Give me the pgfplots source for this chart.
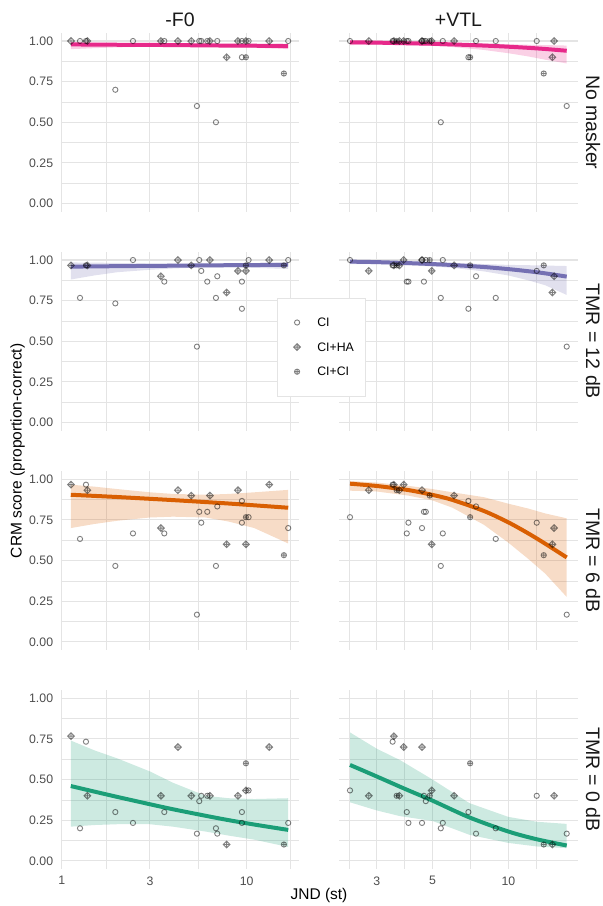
\documentclass[border=0pt]{standalone}
\usepackage{fontspec}
\setmainfont{Liberation Sans}
\usepackage{pgfplots}
\usepackage{pgfplotstable}
\pgfplotsset{compat=1.18}
\usetikzlibrary{plotmarks}

\definecolor{cpink}{HTML}{E7298A}
\definecolor{cpurple}{HTML}{7570B3}
\definecolor{corange}{HTML}{D95F02}
\definecolor{cgreen}{HTML}{1B9E77}
\definecolor{gridc}{HTML}{E4E4E4}
\definecolor{tickc}{HTML}{4D4D4D}

\pgfdeclareplotmark{dplus}{%
  \pgfpathmoveto{\pgfqpoint{0pt}{\pgfplotmarksize}}%
  \pgfpathlineto{\pgfqpoint{\pgfplotmarksize}{0pt}}%
  \pgfpathlineto{\pgfqpoint{0pt}{-\pgfplotmarksize}}%
  \pgfpathlineto{\pgfqpoint{-\pgfplotmarksize}{0pt}}%
  \pgfpathclose
  \pgfpathmoveto{\pgfqpoint{0pt}{\pgfplotmarksize}}%
  \pgfpathlineto{\pgfqpoint{0pt}{-\pgfplotmarksize}}%
  \pgfpathmoveto{\pgfqpoint{\pgfplotmarksize}{0pt}}%
  \pgfpathlineto{\pgfqpoint{-\pgfplotmarksize}{0pt}}%
  \pgfusepathqstroke}

% fitted curves
\pgfplotstableread{
x f
1.12 0.979
1.5 0.978
2 0.977
3 0.976
4 0.975
6 0.973
8 0.972
11 0.971
16.79 0.969
}\fitLa
\pgfplotstableread{
x f
1.12 0.959
1.5 0.961
2 0.962
3 0.964
4 0.965
6 0.967
8 0.968
11 0.969
16.79 0.971
}\fitLb
\pgfplotstableread{
x f
1.12 0.905
1.5 0.898
2 0.891
3 0.880
4 0.872
6 0.860
8 0.851
11 0.840
16.79 0.825
}\fitLc
\pgfplotstableread{
x f
1.12 0.460
1.5 0.426
2 0.393
3 0.348
4 0.317
6 0.277
8 0.250
11 0.223
16.79 0.190
}\fitLd
\pgfplotstableread{
x f
2.35 0.992
3 0.990
4 0.986
5 0.983
6 0.979
8 0.972
10 0.965
12 0.958
14 0.951
17.05 0.940
}\fitRa
\pgfplotstableread{
x f
2.35 0.990
3 0.987
4 0.981
5 0.975
6 0.969
8 0.957
10 0.944
12 0.931
14 0.918
17.05 0.898
}\fitRb
\pgfplotstableread{
x f
2.35 0.973
3 0.959
4 0.934
5 0.904
6 0.873
8 0.805
10 0.735
12 0.667
14 0.604
17.05 0.519
}\fitRc
\pgfplotstableread{
x f
2.35 0.590
3 0.519
3.71 0.456
4 0.434
5 0.370
7 0.267
10 0.180
13 0.132
17.05 0.094
}\fitRd

\pgfplotsset{
  every axis/.append style={
    scale only axis, width=238.5pt, height=178.7pt,
    ymin=-0.05, ymax=1.05,
    ytick={0,0.25,0.5,0.75,1}, minor ytick={0.125,0.375,0.625,0.875},
    grid=both,
    major grid style={draw=gridc, line width=1.1pt},
    minor grid style={draw=gridc, line width=0.55pt},
    axis line style={draw=none},
    major tick length=0pt, minor tick length=0pt,
    tick label style={font=\fontsize{12.3}{14}\selectfont, text=tickc},
    yticklabel style={inner sep=0pt, xshift=-7.4pt},
    xticklabel style={inner sep=0pt, yshift=-7.4pt},
  },
  mkci/.style={only marks, mark=o, mark size=2.6pt,
    mark options={draw=black, opacity=0.5, line width=0.9pt},
    legend image code/.code={\path (0pt,-4pt) (16pt,4pt);
      \draw[mark repeat=2,mark phase=2,##1] plot coordinates {(0pt,0pt)(8pt,0pt)(16pt,0pt)};}},
  mkha/.style={only marks, mark=dplus, mark size=3.4pt,
    mark options={draw=black, opacity=0.5, line width=0.9pt},
    legend image code/.code={\path (0pt,-4pt) (16pt,4pt);
      \draw[mark repeat=2,mark phase=2,##1] plot coordinates {(0pt,0pt)(8pt,0pt)(16pt,0pt)};}},
  mkcc/.style={only marks, mark=oplus, mark size=2.6pt,
    mark options={draw=black, opacity=0.5, line width=0.9pt},
    legend image code/.code={\path (0pt,-4pt) (16pt,4pt);
      \draw[mark repeat=2,mark phase=2,##1] plot coordinates {(0pt,0pt)(8pt,0pt)(16pt,0pt)};}},
}

\begin{document}
\begin{tikzpicture}
\path[use as bounding box] (0pt,0pt) rectangle (603pt,906pt);

% ---------- Row 1: No masker ----------
\begin{axis}[xmode=log, anchor=north west, at={(60.7pt,873.1pt)},
  xmin=0.9876, xmax=19.25, xtick={1,3,10}, minor xtick={1.732,5.477,17.32}, xticklabels={},
  yticklabels={0.00,0.25,0.50,0.75,1.00}]
\addplot[fill=cpink, fill opacity=0.22, draw=none] coordinates {(1.12,0.990)(1.5,0.988)(2,0.986)(3,0.985)(4,0.984)(6,0.982)(8,0.981)(11,0.981)(16.79,0.982)(16.79,0.950)(11,0.958)(8,0.962)(6,0.965)(4,0.966)(3,0.965)(2,0.961)(1.5,0.956)(1.12,0.950)} -- cycle;
\addplot[cpink, line width=4pt, smooth] table[x=x,y=f]{\fitLa};
\addplot[mkci] coordinates {(1.256,1)(1.353,1)(1.950,0.7)(2.429,1)(3.588,1)(5.387,0.6)(5.546,1)(5.686,1)(6.127,1)(6.826,0.5)(6.940,1)(9.432,0.9)(9.432,1)(10.25,1)(16.79,1)};
\addplot[mkha] coordinates {(1.123,1)(1.376,1)(3.441,1)(4.253,1)(5.020,1)(6.334,1)(7.795,0.9)(8.975,1)(9.913,1)(13.25,1)};
\addplot[mkcc] coordinates {(9.913,0.9)(15.91,0.8)};
\end{axis}
\begin{axis}[xmode=log, anchor=north west, at={(339.3pt,873.1pt)},
  xmin=2.131, xmax=18.87, xtick={3,5,10}, minor xtick={2.324,3.873,7.071,12.91}, yticklabels={}, xticklabels={}]
\addplot[fill=cpink, fill opacity=0.22, draw=none] coordinates {(2.35,0.997)(3,0.996)(4,0.993)(5,0.990)(6,0.988)(8,0.985)(10,0.980)(12,0.977)(14,0.975)(17.05,0.972)(17.05,0.862)(14,0.885)(12,0.905)(10,0.925)(8,0.945)(6,0.963)(5,0.970)(4,0.975)(3,0.978)(2.35,0.975)} -- cycle;
\addplot[cpink, line width=4pt, smooth] table[x=x,y=f]{\fitRa};
\addplot[mkci] coordinates {(2.35,1)(3.47,1)(3.95,1)(4.01,1)(4.54,1)(4.62,1)(4.70,1)(5.39,0.5)(5.49,1)(6.94,0.9)(7.44,1)(8.91,1)(12.96,1)(17.05,0.6)};
\addplot[mkha] coordinates {(2.79,1)(3.51,1)(3.69,1)(3.84,1)(4.54,1)(4.96,1)(6.09,1)(14.96,0.9)(15.19,1)};
\addplot[mkcc] coordinates {(3.60,1)(4.87,1)(7.05,0.9)(13.82,0.8)};
\end{axis}

% ---------- Row 2: TMR = 12 dB ----------
\begin{axis}[xmode=log, anchor=north west, at={(60.7pt,654.1pt)},
  xmin=0.9876, xmax=19.25, xtick={1,3,10}, minor xtick={1.732,5.477,17.32}, xticklabels={},
  yticklabels={0.00,0.25,0.50,0.75,1.00}]
\addplot[fill=cpurple, fill opacity=0.22, draw=none] coordinates {(1.12,0.985)(1.5,0.984)(2,0.982)(3,0.978)(4,0.977)(6,0.976)(8,0.978)(11,0.980)(16.79,0.985)(16.79,0.945)(11,0.952)(8,0.955)(6,0.955)(4,0.948)(3,0.940)(2,0.925)(1.5,0.905)(1.12,0.880)} -- cycle;
\addplot[cpurple, line width=4pt, smooth] table[x=x,y=f]{\fitLb};
\addplot[mkci] coordinates {(1.256,0.767)(1.353,0.967)(1.950,0.733)(2.429,1)(3.588,0.867)(5.387,0.467)(5.546,1)(5.686,0.933)(6.127,0.867)(6.826,0.767)(6.940,0.9)(9.432,0.867)(9.432,0.7)(10.25,1)(16.79,1)};
\addplot[mkha] coordinates {(1.123,0.967)(1.376,0.967)(3.441,0.9)(4.253,1)(5.020,0.967)(6.334,1)(7.795,0.8)(8.975,0.933)(9.913,0.933)(13.25,1)};
\addplot[mkcc] coordinates {(9.913,0.967)(15.91,0.967)};
\end{axis}
\begin{axis}[xmode=log, anchor=north west, at={(339.3pt,654.1pt)},
  xmin=2.131, xmax=18.87, xtick={3,5,10}, minor xtick={2.324,3.873,7.071,12.91}, yticklabels={}, xticklabels={},
  legend style={at={(-0.2613,0.742)}, anchor=north west, draw=gridc, fill=white,
    font=\fontsize{12.3}{14}\selectfont, inner xsep=11.7pt, inner ysep=12pt, row sep=0pt,
    /tikz/every odd column/.append style={column sep=12pt},
    nodes={inner sep=0pt, text height=16.3pt, text depth=8.3pt}},
  legend cell align=left]
\addplot[fill=cpurple, fill opacity=0.22, draw=none, forget plot] coordinates {(2.35,0.995)(3,0.993)(4,0.990)(5,0.986)(6,0.982)(8,0.975)(10,0.970)(12,0.968)(14,0.966)(17.05,0.963)(17.05,0.785)(14,0.845)(12,0.875)(10,0.905)(8,0.930)(6,0.952)(5,0.960)(4,0.968)(3,0.975)(2.35,0.975)} -- cycle;
\addplot[cpurple, line width=4pt, smooth, forget plot] table[x=x,y=f]{\fitRb};
\addplot[mkci] coordinates {(2.35,1)(3.47,0.967)(3.95,0.867)(4.01,0.867)(4.54,1)(4.62,0.867)(4.70,1)(5.39,0.767)(5.49,1)(6.94,0.7)(7.44,0.9)(8.91,0.767)(12.96,0.933)(17.05,0.467)};
\addlegendentry{CI}
\addplot[mkha] coordinates {(2.79,0.933)(3.51,0.967)(3.69,0.967)(3.84,1)(4.54,1)(4.96,0.933)(6.09,0.967)(14.96,0.8)(15.19,0.9)};
\addlegendentry{CI+HA}
\addplot[mkcc] coordinates {(3.60,0.967)(4.87,1)(7.05,0.967)(13.82,0.967)};
\addlegendentry{CI+CI}
\end{axis}

% ---------- Row 3: TMR = 6 dB ----------
\begin{axis}[xmode=log, anchor=north west, at={(60.7pt,434.8pt)},
  xmin=0.9876, xmax=19.25, xtick={1,3,10}, minor xtick={1.732,5.477,17.32}, xticklabels={},
  yticklabels={0.00,0.25,0.50,0.75,1.00}]
\addplot[fill=corange, fill opacity=0.22, draw=none] coordinates {(1.12,0.967)(1.5,0.955)(2,0.940)(3,0.920)(4,0.910)(6,0.905)(8,0.910)(11,0.920)(16.79,0.935)(16.79,0.605)(11,0.700)(8,0.740)(6,0.765)(4,0.770)(3,0.765)(2,0.745)(1.5,0.725)(1.12,0.700)} -- cycle;
\addplot[corange, line width=4pt, smooth] table[x=x,y=f]{\fitLc};
\addplot[mkci] coordinates {(1.256,0.633)(1.353,0.967)(1.950,0.467)(2.429,0.667)(3.588,0.667)(5.387,0.167)(5.546,0.8)(5.686,0.733)(6.127,0.8)(6.826,0.467)(6.940,0.833)(9.432,0.867)(9.432,0.733)(10.25,0.767)(16.79,0.7)};
\addplot[mkha] coordinates {(1.123,0.967)(1.376,0.933)(3.441,0.7)(4.253,0.933)(5.020,0.9)(6.334,0.9)(7.795,0.6)(8.975,0.933)(9.913,0.6)(13.25,0.967)};
\addplot[mkcc] coordinates {(9.913,0.767)(15.91,0.533)};
\end{axis}
\begin{axis}[xmode=log, anchor=north west, at={(339.3pt,434.8pt)},
  xmin=2.131, xmax=18.87, xtick={3,5,10}, minor xtick={2.324,3.873,7.071,12.91}, yticklabels={}, xticklabels={}]
\addplot[fill=corange, fill opacity=0.22, draw=none] coordinates {(2.35,0.990)(3,0.980)(4,0.960)(5,0.940)(6,0.920)(8,0.890)(10,0.850)(12,0.820)(14,0.790)(17.05,0.760)(17.05,0.276)(14,0.420)(12,0.510)(10,0.610)(8,0.720)(6,0.825)(5,0.870)(4,0.900)(3,0.925)(2.35,0.930)} -- cycle;
\addplot[corange, line width=4pt, smooth] table[x=x,y=f]{\fitRc};
\addplot[mkci] coordinates {(2.35,0.767)(3.47,0.967)(3.95,0.667)(4.01,0.733)(4.54,0.7)(4.62,0.8)(4.70,0.8)(5.39,0.467)(5.49,0.667)(6.94,0.867)(7.44,0.833)(8.91,0.633)(12.96,0.733)(17.05,0.167)};
\addplot[mkha] coordinates {(2.79,0.933)(3.51,0.967)(3.69,0.933)(3.84,0.967)(4.54,0.933)(4.96,0.6)(6.09,0.9)(14.96,0.6)(15.19,0.7)};
\addplot[mkcc] coordinates {(3.60,0.933)(4.87,0.9)(7.05,0.767)(13.82,0.533)};
\end{axis}

% ---------- Row 4: TMR = 0 dB ----------
\begin{axis}[xmode=log, anchor=north west, at={(60.7pt,215.8pt)},
  xmin=0.9876, xmax=19.25, xtick={1,3,10}, minor xtick={1.732,5.477,17.32}, xticklabels={1,3,10},
  yticklabels={0.00,0.25,0.50,0.75,1.00}]
\addplot[fill=cgreen, fill opacity=0.22, draw=none] coordinates {(1.12,0.740)(1.5,0.680)(2,0.630)(3,0.550)(4,0.480)(6,0.400)(8,0.385)(11,0.380)(16.79,0.385)(16.79,0.085)(11,0.130)(8,0.155)(6,0.180)(4,0.210)(3,0.225)(2,0.225)(1.5,0.220)(1.12,0.210)} -- cycle;
\addplot[cgreen, line width=4pt, smooth] table[x=x,y=f]{\fitLd};
\addplot[mkci] coordinates {(1.256,0.2)(1.353,0.733)(1.950,0.3)(2.429,0.233)(3.588,0.3)(5.387,0.167)(5.546,0.367)(5.686,0.4)(6.127,0.4)(6.826,0.2)(6.940,0.167)(9.432,0.3)(9.432,0.233)(10.25,0.433)(16.79,0.233)};
\addplot[mkha] coordinates {(1.123,0.767)(1.376,0.4)(3.441,0.4)(4.253,0.7)(5.020,0.4)(6.334,0.4)(7.795,0.1)(8.975,0.4)(9.913,0.433)(13.25,0.7)};
\addplot[mkcc] coordinates {(9.913,0.6)(15.91,0.1)};
\end{axis}
\begin{axis}[xmode=log, anchor=north west, at={(339.3pt,215.8pt)},
  xmin=2.131, xmax=18.87, xtick={3,5,10}, minor xtick={2.324,3.873,7.071,12.91}, yticklabels={}, xticklabels={3,5,10}]
\addplot[fill=cgreen, fill opacity=0.22, draw=none] coordinates {(2.35,0.790)(3,0.690)(3.71,0.620)(5,0.500)(7,0.355)(10,0.270)(13,0.240)(17.05,0.227)(17.05,0.078)(13,0.088)(10,0.110)(7,0.160)(5,0.245)(3.71,0.275)(3,0.310)(2.35,0.360)} -- cycle;
\addplot[cgreen, line width=4pt, smooth] table[x=x,y=f]{\fitRd};
\addplot[mkci] coordinates {(2.35,0.433)(3.47,0.733)(3.95,0.3)(4.01,0.233)(4.54,0.233)(4.62,0.4)(4.70,0.367)(5.39,0.2)(5.49,0.233)(6.94,0.3)(7.44,0.167)(8.91,0.2)(12.96,0.4)(17.05,0.167)};
\addplot[mkha] coordinates {(2.79,0.4)(3.51,0.767)(3.69,0.4)(3.84,0.7)(4.54,0.7)(4.96,0.433)(6.09,0.4)(14.96,0.1)(15.19,0.4)};
\addplot[mkcc] coordinates {(3.60,0.4)(4.87,0.4)(7.05,0.6)(13.82,0.1)};
\end{axis}

% ---------- strip and axis titles ----------
\node[font=\fontsize{19.5}{22}\selectfont, text=black!90] at (180pt,886pt) {-F0};
\node[font=\fontsize{19.5}{22}\selectfont, text=black!90] at (458.5pt,886pt) {+VTL};
\node[font=\fontsize{19.5}{22}\selectfont, text=black!90, rotate=-90] at (593pt,783.75pt) {No masker};
\node[font=\fontsize{19.5}{22}\selectfont, text=black!90, rotate=-90] at (593pt,564.75pt) {TMR = 12 dB};
\node[font=\fontsize{19.5}{22}\selectfont, text=black!90, rotate=-90] at (593pt,345.45pt) {TMR = 6 dB};
\node[font=\fontsize{19.5}{22}\selectfont, text=black!90, rotate=-90] at (593pt,126.45pt) {TMR = 0 dB};
\node[font=\fontsize{15.5}{18}\selectfont, rotate=90] at (17.5pt,455.1pt) {CRM score (proportion-correct)};
\node[font=\fontsize{15.5}{18}\selectfont] at (319pt,11pt) {JND (st)};
\end{tikzpicture}
\end{document}
